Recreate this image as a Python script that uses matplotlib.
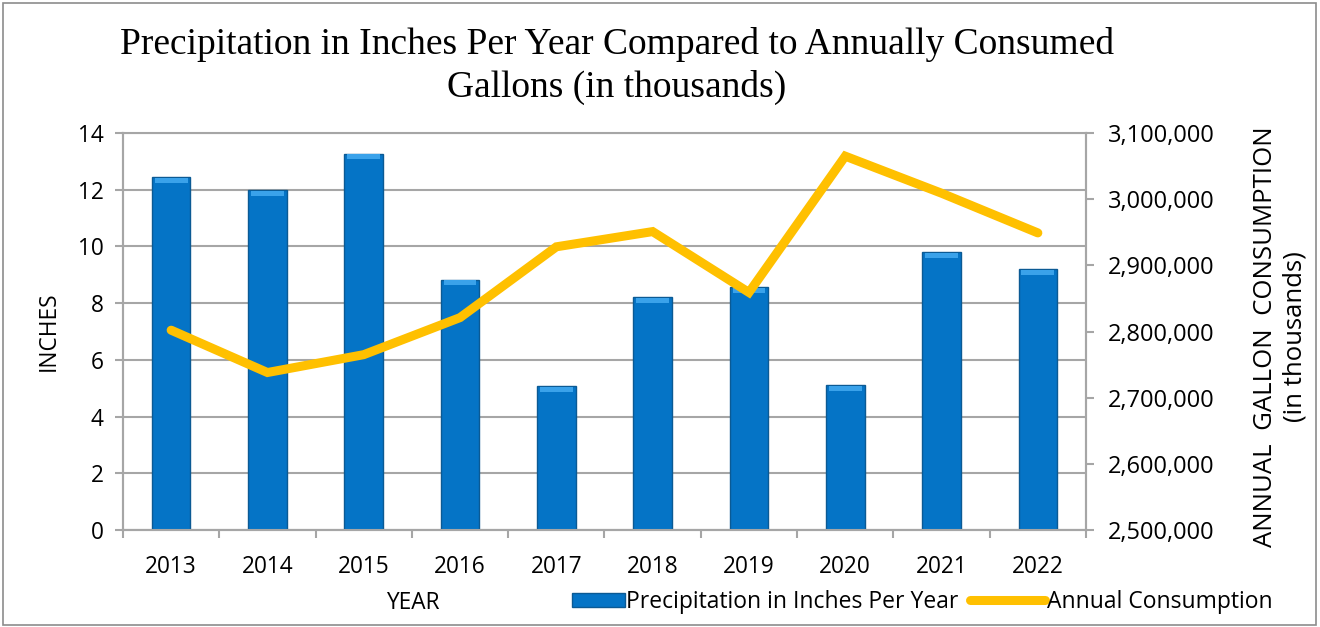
import numpy as np
import matplotlib.pyplot as plt
from matplotlib.ticker import FuncFormatter
from matplotlib.patches import Rectangle
from matplotlib.lines import Line2D
from matplotlib.legend_handler import HandlerPatch

years = ['2013', '2014', '2015', '2016', '2017', '2018', '2019', '2020', '2021', '2022']
precip = [12.44, 11.98, 13.27, 8.83, 5.08, 8.20, 8.57, 5.10, 9.79, 9.19]
consumption = [2802000, 2738000, 2765000, 2821000, 2928000, 2951000, 2859000, 3065000, 3009000, 2949000]

sans = ['Open Sans', 'DejaVu Sans']
grid_col = '#A6A6A6'
fs = 16.3

fig = plt.figure(figsize=(13.2, 6.27), dpi=100)
ax = fig.add_axes([123 / 1320, 1 - 530 / 627, (1086 - 123) / 1320, (530 - 133) / 627])
ax2 = ax.twinx()

x = np.arange(len(years))
ax.bar(x, precip, width=0.4, color='#0574C6', edgecolor='#0B5A94', linewidth=1.0, zorder=3)
# lighter bevel on top of each bar
ax.bar(x, [0.18] * len(x), bottom=[p - 0.2 for p in precip], width=0.34,
       color='#3AA2EA', linewidth=0, zorder=4)

ax.set_xlim(-0.5, len(years) - 0.5)
ax.set_ylim(0, 14)
ax.set_yticks(range(0, 15, 2))
ax.set_xticks(x)
ax.set_xticklabels(years)
ax.set_xticks(np.arange(-0.5, len(years), 1), minor=True)
ax.tick_params(axis='x', which='major', length=0, pad=18)
ax.tick_params(axis='x', which='minor', length=6, color=grid_col, width=1.5)
ax.tick_params(axis='y', length=6, color=grid_col, width=1.5, pad=8)
ax.grid(axis='y', color=grid_col, linewidth=1.5, zorder=0)
ax.set_axisbelow(True)

ax2.plot(x, consumption, color='#FFC000', linewidth=6.5, solid_capstyle='round',
         solid_joinstyle='miter', zorder=5)
ax2.set_ylim(2500000, 3100000)
ax2.set_yticks(range(2500000, 3100001, 100000))
ax2.yaxis.set_major_formatter(FuncFormatter(lambda v, p: f'{int(v):,}'))
ax2.tick_params(axis='y', length=6, color=grid_col, width=1.5, pad=10)

for a in (ax, ax2):
    for s in a.spines.values():
        s.set_color(grid_col)
        s.set_linewidth(1.5)
    for lbl in a.get_xticklabels() + a.get_yticklabels():
        lbl.set_family(sans)
        lbl.set_fontsize(fs)
for lbl in ax2.get_yticklabels():
    lbl.set_fontsize(17)
ax2.spines['top'].set_visible(False)

ax.set_ylabel('INCHES', family=sans, fontsize=fs, labelpad=12)

fig.text(1280 / 1320, 1 - 337 / 627, 'ANNUAL  GALLON  CONSUMPTION\n(in thousands)',
         family=sans, fontsize=18.5, rotation=90, ha='center', va='center',
         multialignment='center', linespacing=1.25)

fig.text(413 / 1320, 1 - 603 / 627, 'YEAR', family=sans, fontsize=fs, ha='center', va='center')

fig.text(617 / 1320, 1 - 66 / 627,
         'Precipitation in Inches Per Year Compared to Annually Consumed\nGallons (in thousands)',
         family='Liberation Serif', fontsize=27, ha='center', va='center', linespacing=1.3)


def short_rect(legend, orig_handle, xdescent, ydescent, width, height, fontsize):
    w = width * 0.7
    return Rectangle((width - w - xdescent, -ydescent), w, height)


handles = [Rectangle((0, 0), 1, 1, facecolor='#0574C6', edgecolor='#0B5A94'),
           Line2D([], [], color='#FFC000', linewidth=6.5, solid_capstyle='round')]
fig.legend(handles, ['Precipitation in Inches Per Year', 'Annual Consumption'],
           loc='center left', bbox_to_anchor=(540 / 1320, 1 - 602 / 627), ncol=2,
           frameon=False, prop={'family': sans, 'size': 16.5}, handlelength=3.3,
           handleheight=0.6, handletextpad=0.05, columnspacing=0.5, borderaxespad=0,
           handler_map={Rectangle: HandlerPatch(patch_func=short_rect)})

fig.add_artist(Rectangle((0.002, 0.003), 0.995, 0.993, transform=fig.transFigure,
                         fill=False, edgecolor='#8C8C8C', linewidth=1.2))

fig.savefig('out.png', dpi=100)
